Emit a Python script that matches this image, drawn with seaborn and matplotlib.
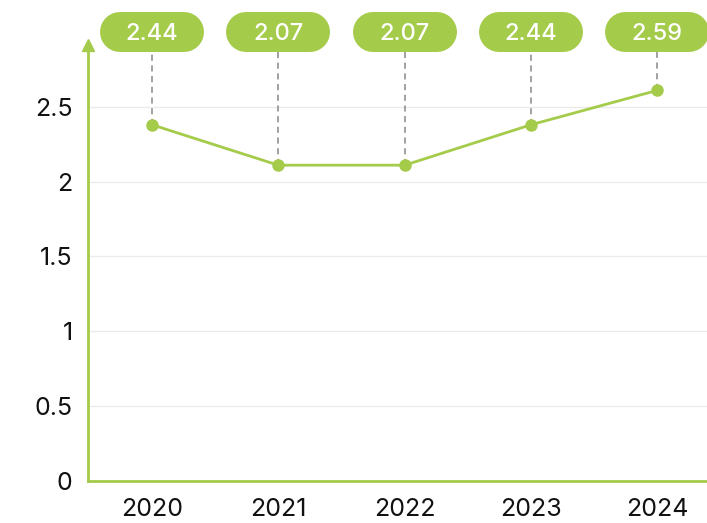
import numpy as np
import pandas as pd
import matplotlib
matplotlib.use("Agg")
import matplotlib.pyplot as plt
from matplotlib.lines import Line2D
import seaborn as sns

years = ["2020", "2021", "2022", "2023", "2024"]
values = [2.38, 2.11, 2.11, 2.38, 2.61]
label_texts = ["2.44", "2.07", "2.07", "2.44", "2.59"]
y_ticks = [0, 0.5, 1, 1.5, 2, 2.5]
y_tick_labels = ["0", "0.5", "1", "1.5", "2", "2.5"]

green = "#a4cb4a"

sns.set_style("white")
plt.rcParams["font.family"] = ["Inter", "DejaVu Sans"]

df = pd.DataFrame({"x": np.arange(len(years)), "value": values})

W, H, DPI = 707, 523, 100
fig = plt.figure(figsize=(W / DPI, H / DPI), dpi=DPI)
# axes placed in pixels: left 88, right 707, bottom 481 (from top), top 45
ax = fig.add_axes([88 / W, 1 - 481 / H, (707 - 88) / W, (481 - 45) / H])

sns.lineplot(data=df, x="x", y="value", ax=ax, color=green, linewidth=2,
             marker="o", markersize=9, markeredgewidth=0, clip_on=False, zorder=5)

ax.set_xlim(-0.507, 4.394)
ax.set_ylim(0, 2.913)
ax.set_xticks(range(len(years)))
ax.set_xticklabels(years)
ax.set_yticks(y_ticks)
ax.set_yticklabels(y_tick_labels)
ax.set_xlabel("")
ax.set_ylabel("")
ax.tick_params(axis="both", length=0, labelsize=18, colors="#111111")
ax.tick_params(axis="y", pad=11)
ax.tick_params(axis="x", pad=12)

for t in y_ticks[1:]:
    ax.axhline(t, color="#ebebeb", linewidth=1, zorder=0)

for side in ["top", "right"]:
    ax.spines[side].set_visible(False)
for side in ["left", "bottom"]:
    ax.spines[side].set_color(green)
    ax.spines[side].set_linewidth(2)

# arrow head on the y axis
ax.plot([0], [1], marker="^", color=green, markersize=8, transform=ax.transAxes,
        clip_on=False, zorder=6)

# pills with labels and dashed connectors
pill_w, pill_h = 104, 40  # px
pill_cy = 1 - 32 / H
pill_bottom_px = H - 52
inv = ax.transData.inverted()
for i, (v, lab) in enumerate(zip(values, label_texts)):
    cx_px = ax.transData.transform((i, 0))[0]
    y_top = inv.transform((cx_px, pill_bottom_px))[1]
    ax.plot([i, i], [v, y_top], color="#888888", linewidth=1.1,
            linestyle=(0, (4, 3)), clip_on=False, zorder=3)
    half = (pill_w - pill_h) / 2
    pill = Line2D([(cx_px - half) / W, (cx_px + half) / W], [pill_cy, pill_cy],
                  transform=fig.transFigure, color=green,
                  linewidth=pill_h * 72 / DPI, solid_capstyle="round", zorder=10)
    fig.add_artist(pill)
    fig.text(cx_px / W, pill_cy, lab, ha="center", va="center_baseline",
             color="white", fontsize=17, fontweight="medium", zorder=11)

fig.savefig("out.png", dpi=DPI)
